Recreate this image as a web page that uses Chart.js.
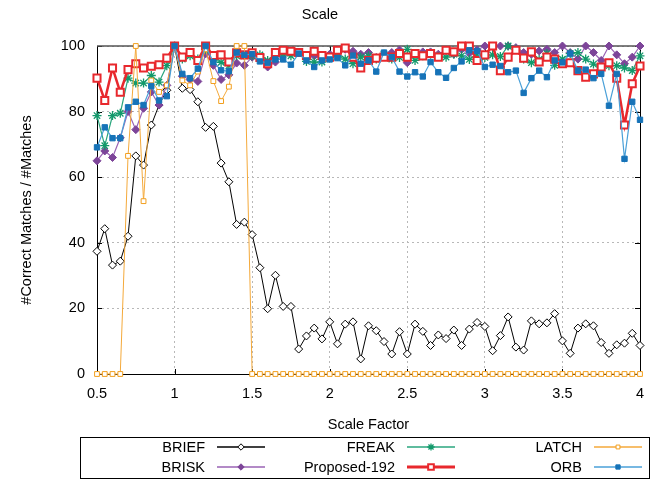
<!DOCTYPE html>
<html>
<head>
<meta charset="utf-8">
<script src="https://cdn.jsdelivr.net/npm/chart.js@4.4.1/dist/chart.umd.min.js"></script>
<style>
  html, body { margin: 0; padding: 0; background: #fff; }
</style>
</head>
<body>
<canvas id="chart" width="657" height="480"></canvas>
<script>
// scale factor on the x axis
const scaleFactors = [
  0.5, 0.55, 0.6, 0.65, 0.7, 0.75, 0.8, 0.85, 0.9, 0.95,
  1.0, 1.05, 1.1, 1.15, 1.2, 1.25, 1.3, 1.35, 1.4, 1.45,
  1.5, 1.55, 1.6, 1.65, 1.7, 1.75, 1.8, 1.85, 1.9, 1.95,
  2.0, 2.05, 2.1, 2.15, 2.2, 2.25, 2.3, 2.35, 2.4, 2.45,
  2.5, 2.55, 2.6, 2.65, 2.7, 2.75, 2.8, 2.85, 2.9, 2.95,
  3.0, 3.05, 3.1, 3.15, 3.2, 3.25, 3.3, 3.35, 3.4, 3.45,
  3.5, 3.55, 3.6, 3.65, 3.7, 3.75, 3.8, 3.85, 3.9, 3.95,
  4.0
];

const brief = [
  37.4, 44.3, 33.2, 34.4, 42.0, 66.5, 63.7, 75.9, 82.0, 86.5,
  100, 87.1, 86.7, 83.0, 75.2, 75.5, 64.3, 58.6, 45.6, 46.3,
  42.5, 32.4, 19.9, 30.1, 20.6, 20.6, 7.6, 11.6, 14.0, 10.7,
  15.9, 9.2, 15.2, 15.9, 4.6, 14.7, 13.2, 9.9, 6.1, 12.9,
  6.1, 15.2, 13.0, 8.7, 11.9, 10.8, 13.4, 8.7, 13.7, 15.7,
  14.5, 7.1, 11.7, 17.4, 8.2, 7.3, 16.2, 15.3, 15.6, 18.4,
  10.1, 6.3, 14.0, 15.3, 14.7, 9.6, 6.3, 8.9, 9.4, 12.4,
  8.7
];

const brisk = [
  65, 68, 66, 72, 80, 74.5, 81, 86, 82, 88,
  100, 90.8, 89.8, 89.2, 97.6, 94.1, 89.8, 91.2, 94.8, 94.1,
  96.6, 96.0, 93.6, 95.1, 97.5, 98.5, 98.0, 96.5, 97.0, 96.0,
  97.5, 97.0, 99.0, 98.4, 97.5, 98.0, 96.5, 97.5, 98.0, 98.8,
  94.9, 97.5, 98.2, 98.2, 97.5, 98.8, 97.5, 99.0, 97.8, 98.8,
  100, 99.8, 100, 100, 99.5, 98.0, 97.5, 98.5, 99.0, 98.0,
  100, 98.0, 96.0, 100, 98.0, 95.6, 100, 97.3, 94.6, 96.6,
  100
];

const freak = [
  78.8, 69.6, 78.8, 79.5, 90.2, 88.7, 88.7, 91.0, 89.0, 94.0,
  100, 96, 97, 96, 99, 96, 95, 94, 97, 97,
  97, 97.3, 95.6, 97.0, 97.5, 97.0, 98.0, 95.3, 95.1, 95.1,
  96.6, 96.9, 96.0, 94.6, 96.6, 97.0, 96.0, 97.5, 96.0, 96.5,
  99.0, 95.6, 97.0, 97.5, 96.8, 96.6, 97.5, 97.0, 95.9, 97.5,
  96.5, 97.3, 96.8, 100, 99.0, 96.0, 94.9, 95.9, 97.7, 94.1,
  96.0, 97.7, 98.0, 96.0, 94.5, 93.5, 94.0, 94.0, 93.3, 92.5,
  97.0
];

const proposed192 = [
  90.2, 83.4, 93.3, 85.9, 92.8, 94.6, 93.3, 93.8, 94.3, 96.3,
  100, 96.6, 98.0, 95.6, 100, 97.1, 97.3, 95.1, 97.9, 97.3,
  97.9, 96.5, 94.6, 98.0, 98.7, 98.4, 98.0, 97.1, 98.4, 97.1,
  96.6, 98.7, 99.4, 96.6, 93.3, 95.6, 96.3, 96.6, 96.6, 97.7,
  96.6, 97.7, 97.0, 97.7, 96.6, 98.7, 98.2, 100, 100, 95.6,
  97.3, 100, 92.5, 96.6, 98.7, 96.3, 98.2, 95.1, 96.6, 96.0,
  94.6, 94.9, 92.5, 90.5, 91.5, 93.6, 94.9, 90.2, 75.9, 88.5,
  93.9
];

const latch = [
  0, 0, 0, 0, 66.5, 100, 52.7, 89.5, 86.0, 88.0,
  100, 89.5, 88.0, 92.2, 99.0, 89.3, 83.2, 87.6, 100, 100,
  0, 0, 0, 0, 0, 0, 0, 0, 0, 0,
  0, 0, 0, 0, 0, 0, 0, 0, 0, 0,
  0, 0, 0, 0, 0, 0, 0, 0, 0, 0,
  0, 0, 0, 0, 0, 0, 0, 0, 0, 0,
  0, 0, 0, 0, 0, 0, 0, 0, 0, 0,
  0
];

const orb = [
  69.1, 75.2, 71.9, 71.9, 81.3, 83.0, 82.0, 87.8, 83.4, 84.7,
  100, 91.5, 90.2, 93.1, 100, 95.1, 92.6, 92.3, 98.0, 97.3,
  97.5, 95.3, 94.9, 95.9, 95.9, 94.3, 97.7, 95.6, 93.6, 95.6,
  95.9, 96.3, 94.1, 97.1, 94.6, 95.6, 92.2, 98.0, 96.6, 92.2,
  90.7, 92.0, 90.7, 95.1, 92.0, 90.3, 93.3, 95.3, 98.7, 98.5,
  93.6, 94.3, 93.9, 92.0, 92.5, 85.7, 90.2, 92.5, 90.5, 95.6,
  95.0, 97.7, 92.5, 92.8, 90.2, 91.5, 81.8, 91.5, 65.6, 83.0,
  77.5
];

const xTickLabels = ['0.5', '1', '1.5', '2', '2.5', '3', '3.5', '4'];
const yTickLabels = ['0', '20', '40', '60', '80', '100'];

const FONT = '"Liberation Sans", Arial, Helvetica, sans-serif';
const FS = 14.5;

const toPoints = (vals) => scaleFactors.map((x, i) => ({ x: x, y: vals[i] }));

// gnuplot style frame with inward ticks
const framePlugin = {
  id: 'frame',
  beforeDatasetsDraw(chart) {
    const { ctx, chartArea: a, scales } = chart;
    ctx.save();
    ctx.strokeStyle = '#000';
    ctx.lineWidth = 1;
    ctx.beginPath();
    xTickLabels.forEach((t) => {
      const px = Math.round(scales.x.getPixelForValue(parseFloat(t))) + 0.5;
      ctx.moveTo(px, a.bottom); ctx.lineTo(px, a.bottom - 5);
      ctx.moveTo(px, a.top); ctx.lineTo(px, a.top + 5);
    });
    yTickLabels.forEach((t) => {
      const py = Math.round(scales.y.getPixelForValue(parseFloat(t))) + 0.5;
      ctx.moveTo(a.left, py); ctx.lineTo(a.left + 5, py);
      ctx.moveTo(a.right, py); ctx.lineTo(a.right - 5, py);
    });
    ctx.stroke();
    ctx.beginPath();
    ctx.moveTo(a.left + 0.5, a.top);
    ctx.lineTo(a.left + 0.5, a.bottom + 0.5);
    ctx.lineTo(a.right + 0.5, a.bottom + 0.5);
    ctx.lineTo(a.right + 0.5, a.top);
    ctx.stroke();
    ctx.strokeStyle = '#555';
    ctx.lineWidth = 1.6;
    ctx.beginPath();
    ctx.moveTo(a.left, a.top);
    ctx.lineTo(a.right + 1, a.top);
    ctx.stroke();
    ctx.restore();
  }
};

// boxed legend, 3 columns x 2 rows, label left of the sample
const legendPlugin = {
  id: 'boxLegend',
  afterDraw(chart) {
    const ctx = chart.ctx;
    ctx.save();
    ctx.strokeStyle = '#000';
    ctx.lineWidth = 1;
    ctx.strokeRect(80.5, 437.5, 569, 41);
    ctx.font = FS + 'px ' + FONT;
    ctx.textAlign = 'right';
    ctx.textBaseline = 'middle';
    const textRight = [205, 395, 582];
    const rowY = [447, 467];
    chart.data.datasets.forEach((ds, i) => {
      const x = textRight[Math.floor(i / 2)];
      const y = rowY[i % 2];
      ctx.fillStyle = '#000';
      ctx.fillText(ds.label, x, y + 1);
      const x0 = x + 12, x1 = x + 60;
      ctx.strokeStyle = ds.borderColor;
      ctx.lineWidth = ds.borderWidth + 0.5;
      ctx.beginPath();
      ctx.moveTo(x0, y); ctx.lineTo(x1, y);
      ctx.stroke();
      ctx.fillStyle = ds.pointBackgroundColor;
      ctx.strokeStyle = ds.pointBorderColor;
      ctx.lineWidth = ds.pointBorderWidth;
      Chart.helpers.drawPoint(ctx, {
        pointStyle: ds.pointStyle,
        rotation: 0,
        radius: ds.pointRadius * 0.8,
        borderWidth: ds.pointBorderWidth
      }, (x0 + x1) / 2, y);
    });
    ctx.restore();
  }
};

new Chart(document.getElementById('chart'), {
  type: 'line',
  data: {
    datasets: [
      {
        label: 'BRIEF', data: toPoints(brief), order: 5,
        borderColor: '#000', borderWidth: 1,
        pointStyle: 'rectRot', pointRadius: 4,
        pointBackgroundColor: '#fff', pointBorderColor: '#000', pointBorderWidth: 1
      },
      {
        label: 'BRISK', data: toPoints(brisk), order: 4,
        borderColor: '#9a63b5', borderWidth: 1.2,
        pointStyle: 'rectRot', pointRadius: 4,
        pointBackgroundColor: '#7d4599', pointBorderColor: '#7d4599', pointBorderWidth: 1
      },
      {
        label: 'FREAK', data: toPoints(freak), order: 3,
        borderColor: '#2aa67e', borderWidth: 1.2,
        pointStyle: 'star', pointRadius: 4.5,
        pointBackgroundColor: '#12996b', pointBorderColor: '#12996b', pointBorderWidth: 1.3
      },
      {
        label: 'Proposed-192', data: toPoints(proposed192), order: 2,
        borderColor: '#e8282d', borderWidth: 2.5,
        pointStyle: 'rect', pointRadius: 5,
        pointBackgroundColor: '#fff', pointBorderColor: '#e8282d', pointBorderWidth: 2
      },
      {
        label: 'LATCH', data: toPoints(latch), order: 1,
        borderColor: '#f4a93a', borderWidth: 1,
        pointStyle: 'rect', pointRadius: 3.4,
        pointBackgroundColor: '#fff', pointBorderColor: '#f29f1e', pointBorderWidth: 1
      },
      {
        label: 'ORB', data: toPoints(orb), order: 0,
        borderColor: '#4aa0d8', borderWidth: 1.2,
        pointStyle: 'rect', pointRadius: 3.8,
        pointBackgroundColor: '#1673b8', pointBorderColor: '#1673b8', pointBorderWidth: 1
      }
    ]
  },
  options: {
    responsive: false,
    animation: false,
    events: [],
    clip: false,
    elements: { line: { tension: 0 } },
    layout: { padding: { left: 0, right: 17, top: 0, bottom: 46 } },
    font: { family: FONT, size: FS },
    plugins: {
      legend: { display: false },
      tooltip: { enabled: false },
      title: {
        display: true,
        text: 'Scale',
        color: '#000',
        font: { family: FONT, size: FS, weight: 'normal' },
        padding: { top: 6, bottom: 22.6 }
      }
    },
    scales: {
      x: {
        type: 'linear',
        min: 0.5,
        max: 4,
        afterFit(scale) { scale.height = 60; },
        grid: { color: '#b8b8b8', lineWidth: 1, drawTicks: false },
        border: { display: false, dash: [2, 3] },
        ticks: {
          stepSize: 0.5,
          padding: 11,
          color: '#000',
          maxRotation: 0,
          font: { family: FONT, size: FS },
          callback: (v) => {
            const s = String(Math.round(v * 100) / 100);
            return xTickLabels.includes(s) ? s : null;
          }
        },
        title: {
          display: true,
          text: 'Scale Factor',
          color: '#000',
          font: { family: FONT, size: FS },
          padding: { top: 0, bottom: 0 }
        }
      },
      y: {
        min: 0,
        max: 100,
        afterFit(scale) { scale.width = 97; },
        grid: { color: '#b8b8b8', lineWidth: 1, drawTicks: false },
        border: { display: false, dash: [2, 3] },
        ticks: {
          stepSize: 20,
          padding: 12,
          color: '#000',
          font: { family: FONT, size: FS },
          callback: (v) => yTickLabels.includes(String(v)) ? String(v) : null
        },
        title: {
          display: true,
          text: '#Correct Matches / #Matches',
          color: '#000',
          font: { family: FONT, size: FS },
          padding: { top: 18, bottom: 0 }
        }
      }
    }
  },
  plugins: [framePlugin, legendPlugin]
});
</script>
</body>
</html>
